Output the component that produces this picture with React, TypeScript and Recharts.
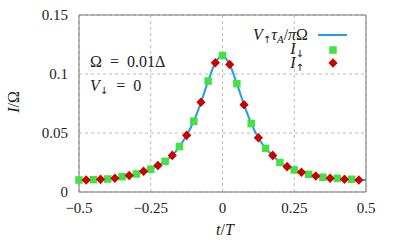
import React from 'react';
import { ComposedChart, Line, Scatter, XAxis, YAxis, CartesianGrid, ReferenceArea } from 'recharts';

const tDown = [-0.5, -0.45, -0.4, -0.35, -0.3, -0.25, -0.2, -0.15, -0.1, -0.05, 0, 0.05, 0.1, 0.15, 0.2, 0.25, 0.3, 0.35, 0.4, 0.45];
const iDown = [0.0102, 0.0105, 0.011, 0.013, 0.0153, 0.0193, 0.026, 0.0385, 0.06, 0.094, 0.1157, 0.0918, 0.058, 0.037, 0.025, 0.0187, 0.015, 0.0125, 0.0116, 0.0108];

const tUp = [-0.475, -0.425, -0.375, -0.325, -0.275, -0.225, -0.175, -0.125, -0.075, -0.025, 0.025, 0.075, 0.125, 0.175, 0.225, 0.275, 0.325, 0.375, 0.425, 0.475];
const iUp = [0.0102, 0.0107, 0.0116, 0.014, 0.0176, 0.0224, 0.031, 0.048, 0.076, 0.1095, 0.108, 0.074, 0.046, 0.031, 0.0215, 0.0167, 0.0136, 0.0116, 0.0108, 0.0102];

const tLine = [-0.5, -0.475, -0.45, -0.425, -0.4, -0.375, -0.35, -0.325, -0.3, -0.275, -0.25, -0.225, -0.2, -0.175, -0.15, -0.125, -0.1, -0.075, -0.05, -0.025, 0, 0.025, 0.05, 0.075, 0.1, 0.125, 0.15, 0.175, 0.2, 0.225, 0.25, 0.275, 0.3, 0.325, 0.35, 0.375, 0.4, 0.425, 0.45, 0.475, 0.5];
const vLine = [0.0101, 0.0102, 0.0105, 0.0107, 0.0111, 0.0116, 0.0126, 0.014, 0.0153, 0.0176, 0.0193, 0.0224, 0.026, 0.031, 0.0385, 0.048, 0.06, 0.076, 0.094, 0.1095, 0.1157, 0.108, 0.0918, 0.074, 0.058, 0.046, 0.037, 0.031, 0.025, 0.0215, 0.0187, 0.0167, 0.015, 0.0136, 0.0125, 0.0116, 0.0112, 0.0108, 0.0106, 0.0102, 0.0101];

const xTicks = [-0.5, -0.25, 0, 0.25, 0.5];
const xTickLabels = ['\u22120.5', '\u22120.25', '0', '0.25', '0.5'];
const yTicks = [0, 0.05, 0.1, 0.15];
const yTickLabels = ['0', '0.05', '0.1', '0.15'];

const downData = tDown.map((t, i) => ({ t, v: iDown[i] }));
const upData = tUp.map((t, i) => ({ t, v: iUp[i] }));
const lineData = tLine.map((t, i) => ({ t, v: vLine[i] }));

const GREEN = '#44e044';
const RED = '#cc0000';
const BLUE = '#1f9ee8';
const FONT = "'Liberation Serif', 'DejaVu Serif', serif";

const Square = (p: any) => (
  <rect x={p.cx - 3.75} y={p.cy - 3.75} width={7.5} height={7.5} fill={GREEN} />
);
const Diamond = (p: any) => (
  <polygon
    points={`${p.cx},${p.cy - 4.8} ${p.cx + 4.6},${p.cy} ${p.cx},${p.cy + 4.8} ${p.cx - 4.6},${p.cy}`}
    fill={RED}
  />
);

const tickStyle = { fontFamily: FONT, fontSize: 15, fill: '#222' };
const arrowStyle: React.CSSProperties = { fontFamily: "'DejaVu Sans', sans-serif", fontSize: 10, verticalAlign: '-3px', fontStyle: 'normal', lineHeight: '8px' };
const subItalic: React.CSSProperties = { fontSize: 11, verticalAlign: '-3px', fontStyle: 'italic', lineHeight: '8px' };
const textBox: React.CSSProperties = { position: 'absolute', fontSize: 16, lineHeight: '12px', whiteSpace: 'nowrap' };

export default function App() {
  return (
    <div style={{ position: 'absolute', left: 0, top: 0, width: 394, height: 244, fontFamily: FONT, color: '#222' }}>
      <ComposedChart width={394} height={244} margin={{ top: 15, right: 28, bottom: 0, left: 0 }}>
        <CartesianGrid strokeDasharray="3 3" stroke="#bbbbbb" />
        <XAxis
          type="number"
          dataKey="t"
          domain={[-0.5, 0.5]}
          ticks={xTicks}
          tickFormatter={(v: number) => xTickLabels[xTicks.indexOf(v)] ?? String(v)}
          tickSize={0}
          tickMargin={10}
          axisLine={false}
          height={52}
          tick={tickStyle}
          interval={0}
        />
        <YAxis
          type="number"
          dataKey="v"
          domain={[0, 0.15]}
          ticks={yTicks}
          tickFormatter={(v: number) => yTickLabels[yTicks.indexOf(v)] ?? String(v)}
          tickSize={0}
          tickMargin={11}
          axisLine={false}
          width={79}
          tick={tickStyle}
          interval={0}
        />
        <ReferenceArea x1={-0.5} x2={0.5} y1={0} y2={0.15} fill="none" stroke="#777" strokeWidth={1} ifOverflow="visible" />
        <Line data={lineData} dataKey="v" type="monotone" stroke={BLUE} strokeWidth={2} dot={false} isAnimationActive={false} />
        <Scatter data={downData} dataKey="v" shape={Square} isAnimationActive={false} />
        <Scatter data={upData} dataKey="v" shape={Diamond} isAnimationActive={false} />
      </ComposedChart>

      <div style={{ ...textBox, left: 90, top: 56 }}>
        Ω{'\u2002'}={'\u2002'}0.01Δ
      </div>
      <div style={{ ...textBox, left: 90, top: 80 }}>
        <i>V</i><span style={arrowStyle}>↓</span>{'\u2002'}={'\u2002'}0
      </div>

      <div style={{ ...textBox, left: 14, top: 102, transform: 'translate(-50%, -50%) rotate(-90deg)' }}>
        <i>I</i>/Ω
      </div>
      <div style={{ ...textBox, left: 225, top: 230, transform: 'translate(-50%, -50%)' }}>
        <i>t</i>/<i>T</i>
      </div>

      <div style={{ ...textBox, right: 86, top: 29, textAlign: 'right' }}>
        <i>V</i><span style={arrowStyle}>↑</span><i>τ</i><span style={subItalic}>A</span>/<i>π</i>Ω
      </div>
      <div style={{ ...textBox, right: 90, top: 43, textAlign: 'right' }}>
        <i>I</i><span style={arrowStyle}>↓</span>
      </div>
      <div style={{ ...textBox, right: 90, top: 57, textAlign: 'right' }}>
        <i>I</i><span style={arrowStyle}>↑</span>
      </div>
      <svg style={{ position: 'absolute', left: 0, top: 0 }} width={394} height={244} pointerEvents="none">
        <line x1={318} y1={35} x2={347} y2={35} stroke={BLUE} strokeWidth={2} />
        <rect x={333 - 3.75} y={50 - 3.75} width={7.5} height={7.5} fill={GREEN} />
        <polygon points={`333,${63 - 4.8} ${333 + 4.6},63 333,${63 + 4.8} ${333 - 4.6},63`} fill={RED} />
      </svg>
    </div>
  );
}
